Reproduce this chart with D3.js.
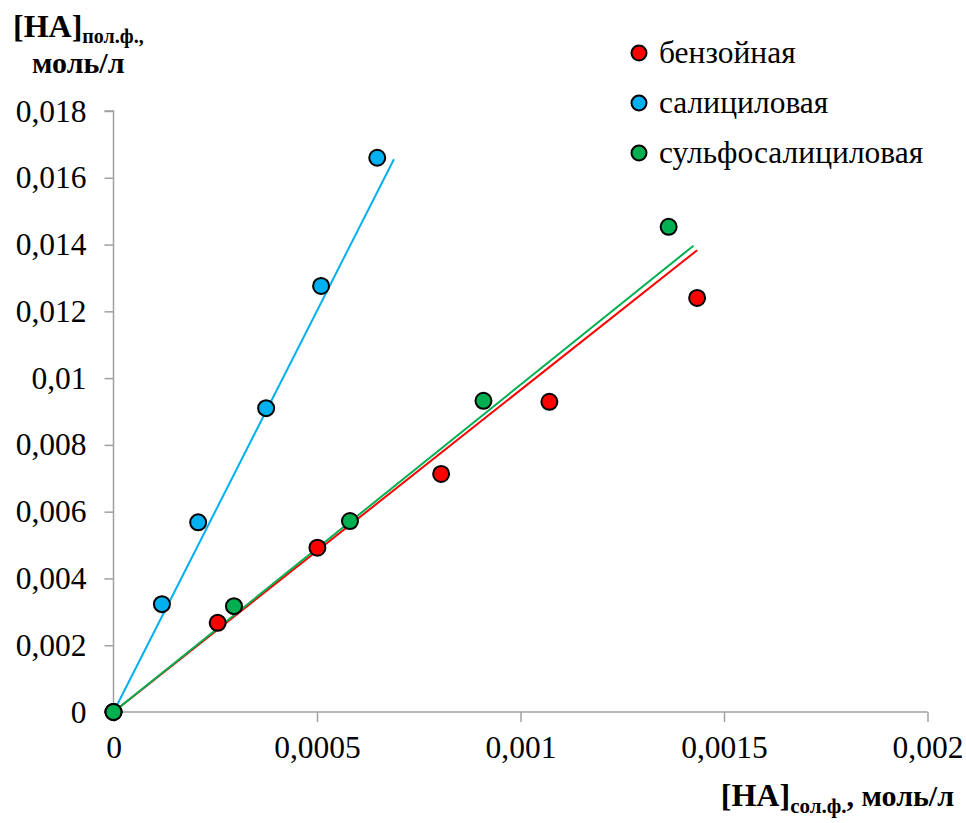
<!DOCTYPE html>
<html>
<head>
<meta charset="utf-8">
<script src="https://cdn.jsdelivr.net/npm/d3@7"></script>
<style>
  body { margin: 0; background: #fff; }
  svg { font-family: "Liberation Serif", "Times New Roman", serif; }
</style>
</head>
<body>
<div id="chart"></div>
<script>
// data
var seriesNames = ["бензойная", "салициловая", "сульфосалициловая"];
var seriesColors = ["#ff0000", "#00b0f0", "#00b050"];

var benzoicX = [0, 0.000256, 0.000501, 0.000805, 0.001071, 0.001434];
var benzoicY = [0, 0.00267, 0.00492, 0.00713, 0.00929, 0.0124];

var salicylicX = [0, 0.000119, 0.000208, 0.000375, 0.00051, 0.000648];
var salicylicY = [0, 0.00323, 0.00568, 0.0091, 0.01276, 0.0166];

var sulfoX = [0, 0.000296, 0.000581, 0.000909, 0.001364];
var sulfoY = [0, 0.00317, 0.00572, 0.00932, 0.01453];

// linear trend lines through origin: slope and end of line (x)
var trendSlope = [9.645, 24.03, 9.80];
var trendEnd = [0.001434, 0.000689, 0.001425];

var xTicks = [0, 0.0005, 0.001, 0.0015, 0.002];
var yTicks = [0, 0.002, 0.004, 0.006, 0.008, 0.01, 0.012, 0.014, 0.016, 0.018];

var width = 966, height = 823;
var svg = d3.select("#chart").append("svg")
    .attr("width", width)
    .attr("height", height);

var x = d3.scaleLinear().domain([0, 0.002]).range([113.5, 927.5]);
var y = d3.scaleLinear().domain([0, 0.018]).range([712, 111]);

var fmt = function (d) { return String(d).replace(".", ","); };
var axisColor = "#a0a0a0";

// y axis
var yAxis = svg.append("g")
    .attr("transform", "translate(" + x(0) + ",0)")
    .call(d3.axisLeft(y).tickValues(yTicks).tickSize(9).tickPadding(18).tickFormat(fmt));
// x axis
var xAxis = svg.append("g")
    .attr("transform", "translate(0," + y(0) + ")")
    .call(d3.axisBottom(x).tickValues(xTicks).tickSize(10).tickPadding(14).tickFormat(fmt));

[yAxis, xAxis].forEach(function (g) {
  g.select(".domain").attr("stroke", axisColor).attr("stroke-width", 1.5);
  g.selectAll(".tick line").attr("stroke", axisColor).attr("stroke-width", 1.5);
  g.selectAll(".tick text")
    .attr("fill", "#000")
    .style("font-family", "Liberation Serif")
    .style("font-size", "31.5px");
});
yAxis.select(".domain").attr("d", "M-9," + y(0.018) + "H0V" + y(0));
xAxis.select(".domain").attr("d", "M" + x(0) + ",0H" + x(0.002));

var series = [
  {xs: benzoicX, ys: benzoicY},
  {xs: salicylicX, ys: salicylicY},
  {xs: sulfoX, ys: sulfoY}
];

// trend lines
var line = d3.line().x(function (d) { return x(d[0]); }).y(function (d) { return y(d[1]); });
series.forEach(function (s, i) {
  svg.append("path")
    .attr("d", line([[0, 0], [trendEnd[i], trendEnd[i] * trendSlope[i]]]))
    .attr("stroke", seriesColors[i])
    .attr("stroke-width", 2)
    .attr("fill", "none");
});

// markers (blue first, then red, green on top like the picture)
[1, 0, 2].forEach(function (i) {
  var s = series[i];
  svg.append("g")
    .selectAll("circle")
    .data(d3.range(s.xs.length))
    .enter().append("circle")
      .attr("cx", function (k) { return x(s.xs[k]); })
      .attr("cy", function (k) { return y(s.ys[k]); })
      .attr("r", 8)
      .attr("fill", seriesColors[i])
      .attr("stroke", "#000")
      .attr("stroke-width", 2);
});

// legend
var legend = svg.append("g").attr("transform", "translate(639,53)");
seriesNames.forEach(function (name, i) {
  var row = legend.append("g").attr("transform", "translate(0," + i * 50 + ")");
  row.append("circle").attr("r", 7.5)
    .attr("fill", seriesColors[i]).attr("stroke", "#000").attr("stroke-width", 2);
  row.append("text").attr("x", 20).attr("y", 10)
    .style("font-size", "31.5px").text(name);
});

// y axis title
var yt = svg.append("text").attr("x", 13).attr("y", 37).style("font-weight", "bold");
yt.append("tspan").style("font-size", "32px").text("[HA]");
yt.append("tspan").attr("dy", 6).style("font-size", "20px").text("пол.ф.,");
svg.append("text").attr("x", 32).attr("y", 73)
  .style("font-weight", "bold").style("font-size", "30px").text("моль/л");

// x axis title
var xt = svg.append("text").attr("x", 954).attr("y", 806)
  .attr("text-anchor", "end").style("font-weight", "bold");
xt.append("tspan").style("font-size", "32px").text("[HA]");
xt.append("tspan").attr("dy", 7).style("font-size", "21px").text("сол.ф.");
xt.append("tspan").attr("dy", -7).style("font-size", "30px").text(", моль/л");
</script>
</body>
</html>
